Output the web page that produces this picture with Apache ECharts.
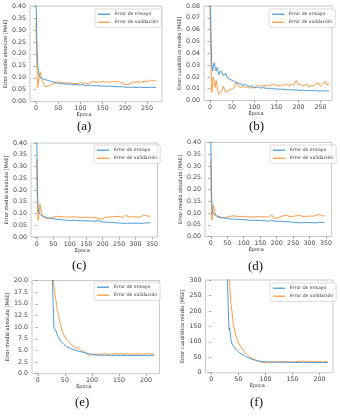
<!DOCTYPE html>
<html><head><meta charset="utf-8">
<script src="https://cdn.jsdelivr.net/npm/echarts@6/dist/echarts.min.js"></script>
<style>html,body{margin:0;padding:0;background:#fff}#c{width:340px;height:417px}</style>
</head><body><div id="c"></div>
<script>
// ---------- data ----------
const seriesNames = ['Error de ensayo', 'Error de validación'];
const panelLabels = ['(a)', '(b)', '(c)', '(d)', '(e)', '(f)'];
const yNames = ['Error medio absoluto [MAE]', 'Error cuadrático medio [MSE]', 'Error medio absoluto [MAE]', 'Error medio absoluto [MAE]', 'Error medio absoluto [MAE]', 'Error cuadrático medio [MSE]'];
const xName = 'Época';

const xTicksAB = [0, 50, 100, 150, 200, 250];
const xTicksCD = [0, 50, 100, 150, 200, 250, 300, 350];
const xTicksEF = [0, 50, 100, 150, 200];

const epochsAB = [0,2,4,6,8,10,12,14,16,18,20,25,30,35,40,45,50,55,60,65,70,75,80,85,90,95,100,105,110,115,120,125,130,135,140,145,150,155,160,165,170,175,180,185,190,195,200,205,210,215,220,225,230,235,240,245,250,255,260,265,270];
const trainA = [0.45,0.25,0.15,0.12,0.105,0.100,0.098,0.097,0.095,0.094,0.092,
  0.090,0.087,0.084,0.082,0.079,0.077,0.076,0.075,0.074,0.073,
  0.074,0.072,0.071,0.072,0.070,0.070,0.071,0.069,0.068,0.069,
  0.067,0.067,0.066,0.067,0.065,0.066,0.065,0.064,0.065,0.064,
  0.063,0.064,0.062,0.063,0.062,0.061,0.060,0.061,0.060,0.061,
  0.059,0.060,0.061,0.059,0.060,0.060,0.059,0.061,0.059,0.060];
const valA = [0.335,0.15,0.06,0.055,0.115,0.125,0.095,0.100,0.090,0.075,0.065,
  0.063,0.068,0.072,0.076,0.080,0.083,0.079,0.081,0.077,0.080,
  0.076,0.078,0.074,0.077,0.075,0.080,0.076,0.079,0.075,0.078,
  0.082,0.085,0.080,0.083,0.081,0.086,0.082,0.084,0.080,0.083,
  0.085,0.082,0.086,0.080,0.078,0.072,0.070,0.074,0.079,0.083,
  0.080,0.084,0.081,0.085,0.083,0.087,0.085,0.090,0.086,0.089];
const trainB = [0.12,0.06,0.03,0.025,0.03,0.032,0.027,0.025,0.028,0.026,0.022,
  0.025,0.021,0.023,0.019,0.018,0.017,0.016,0.015,0.0145,0.014,
  0.013,0.0135,0.0125,0.012,0.0125,0.011,0.0115,0.011,0.0105,0.011,
  0.0105,0.010,0.0105,0.010,0.0098,0.010,0.0095,0.0097,0.0093,0.0095,
  0.009,0.0092,0.009,0.0088,0.009,0.0087,0.0085,0.0088,0.0084,0.0086,
  0.0083,0.0085,0.0082,0.0084,0.008,0.0082,0.008,0.0083,0.0079,0.008];
const valB = [0.08,0.04,0.007,0.008,0.02,0.015,0.011,0.017,0.012,0.008,0.005,
  0.007,0.012,0.007,0.008,0.009,0.010,0.011,0.016,0.012,0.011,
  0.012,0.011,0.0115,0.0105,0.011,0.0105,0.012,0.013,0.012,0.0125,
  0.013,0.012,0.0135,0.013,0.014,0.0125,0.013,0.012,0.0135,0.013,
  0.014,0.0125,0.014,0.013,0.017,0.013,0.014,0.012,0.013,0.014,
  0.011,0.013,0.0125,0.014,0.015,0.012,0.014,0.016,0.013,0.015];

const epochsCD = [0,2,4,6,8,10,12,14,16,18,20,25,30,35,40,45,50,55,60,65,70,75,80,85,90,95,100,105,110,115,120,125,130,135,140,145,150,155,160,165,170,175,180,185,190,195,200,205,210,215,220,225,230,235,240,245,250,255,260,265,270,275,280,285,290,295,300,305,310,315,320,325,330,335,340,345];
const trainC = [0.45,0.2,0.13,0.11,0.1,0.095,0.093,0.091,0.09,0.088,0.087,
  0.085,0.083,0.082,0.080,0.079,0.078,0.077,0.076,0.075,0.074,
  0.073,0.074,0.072,0.073,0.071,0.072,0.071,0.070,0.071,0.070,
  0.069,0.070,0.069,0.068,0.069,0.068,0.069,0.067,0.068,0.066,
  0.067,0.069,0.071,0.067,0.065,0.066,0.064,0.065,0.063,0.064,
  0.062,0.063,0.061,0.062,0.060,0.061,0.059,0.060,0.058,0.060,
  0.059,0.060,0.058,0.060,0.059,0.061,0.059,0.060,0.058,0.060,
  0.059,0.061,0.060,0.062,0.061];
const valC = [0.33,0.12,0.07,0.09,0.125,0.14,0.12,0.105,0.095,0.09,0.086,
  0.081,0.078,0.077,0.079,0.081,0.084,0.086,0.088,0.085,0.087,
  0.089,0.086,0.088,0.084,0.086,0.085,0.083,0.086,0.084,0.085,
  0.082,0.084,0.086,0.083,0.088,0.085,0.081,0.083,0.080,0.084,
  0.079,0.082,0.089,0.077,0.079,0.078,0.081,0.084,0.087,0.085,
  0.088,0.086,0.090,0.087,0.085,0.088,0.084,0.083,0.087,0.092,
  0.089,0.086,0.084,0.085,0.088,0.087,0.084,0.083,0.087,0.090,
  0.088,0.093,0.091,0.087,0.090];
const trainD = [0.45,0.2,0.12,0.105,0.098,0.094,0.092,0.09,0.089,0.088,0.086,
  0.084,0.082,0.081,0.079,0.078,0.077,0.076,0.075,0.074,0.073,
  0.074,0.072,0.073,0.071,0.072,0.070,0.071,0.070,0.069,0.070,
  0.069,0.068,0.069,0.067,0.068,0.067,0.068,0.066,0.067,0.066,
  0.065,0.067,0.070,0.066,0.065,0.064,0.065,0.063,0.064,0.062,
  0.063,0.061,0.062,0.060,0.061,0.059,0.060,0.058,0.059,0.060,
  0.058,0.059,0.060,0.058,0.059,0.061,0.059,0.060,0.058,0.060,
  0.059,0.061,0.060,0.059,0.061];
const valD = [0.33,0.11,0.07,0.10,0.135,0.13,0.11,0.095,0.09,0.086,0.084,
  0.080,0.078,0.079,0.078,0.081,0.083,0.085,0.084,0.087,0.085,
  0.088,0.086,0.084,0.087,0.085,0.083,0.086,0.084,0.082,0.085,
  0.083,0.081,0.084,0.082,0.085,0.080,0.083,0.081,0.084,0.079,
  0.083,0.078,0.092,0.079,0.083,0.077,0.080,0.083,0.086,0.088,
  0.085,0.090,0.087,0.085,0.089,0.086,0.084,0.088,0.086,0.091,
  0.087,0.085,0.089,0.086,0.084,0.087,0.090,0.086,0.088,0.091,
  0.087,0.094,0.091,0.087,0.090];

const epochsEF = [0,5,10,15,20,25,27,28,29,30,31,32,33,34,35,36,38,40,42,45,48,50,55,60,65,70,75,80,85,90,95,100,105,110,115,120,125,130,135,140,145,150,155,160,165,170,175,180,185,190,195,200,205,210,215];
const trainE = [150,110,80,55,38,26,20.5,16,12.5,9.8,9.5,9.6,9.3,9.5,8.9,8.4,7.8,7.4,7.0,6.6,6.3,6.0,
  5.7,5.4,5.2,5.0,4.85,4.7,4.55,4.4,4.25,4.15,
  4.05,4.0,3.98,3.95,3.97,3.93,3.95,3.92,3.94,3.92,
  3.93,3.91,3.93,3.9,3.92,3.9,3.91,3.89,3.9,3.9,
  3.89,3.9,3.9];
const valE = [160,120,85,60,40,28,23,21,19.8,18.5,17.5,16.8,16.0,15.4,14.5,13.6,12.6,11.5,10.4,9.2,8.3,7.9,
  7.1,6.5,6.0,5.5,5.6,5.0,4.7,4.4,3.85,4.15,
  4.2,4.1,4.25,4.2,4.3,4.15,4.25,4.2,4.3,4.2,
  4.25,4.15,4.3,4.2,4.25,4.2,4.3,4.15,4.25,4.2,
  4.3,4.2,4.35];
const trainF = [2000,1500,1100,800,600,420,360,330,310,290,230,170,138,145,128,110,95,88,82,77,72,68,
  61,56,51,47,44,41,39,37,36,35,
  35,34.5,34,34.5,34,33.5,34,33.5,34,33.5,
  33,33.5,33,33.5,33,33.5,33,32.5,33,33,
  32.5,33,33];
const valF = [2200,1700,1250,900,650,470,410,380,360,345,330,318,305,290,255,230,200,165,145,122,108,98,
  82,70,60,52,46,42,39,36,33,32,
  33,34,35,34,36,35,37,35,34,36,
  35,37,36,38,36,35,37,36,35,36,
  35,36,35];

// ---------- layout ----------
const panels = [
  {grid:{left:30, top:6, width:132, height:95.7}, x:[-13.5,283.5], xt:xTicksAB, y:[0,0.4,0.05,2], ep:epochsAB, tr:trainA, va:valA, lg:{left:95, top:9}, lab:[85,128]},
  {grid:{left:204, top:6, width:128, height:94.5}, x:[-13.5,276], xt:xTicksAB, y:[0,0.08,0.01,2], ep:epochsAB, tr:trainB, va:valB, lg:{left:269, top:9}, lab:[257,128]},
  {grid:{left:31, top:143, width:126.5, height:94}, x:[-17.45,366.45], xt:xTicksCD, y:[0,0.4,0.05,2], ep:epochsCD, tr:trainC, va:valC, lg:{left:94, top:145}, lab:[80,267]},
  {grid:{left:205, top:142.5, width:126.5, height:94}, x:[-17.45,366.45], xt:xTicksCD, y:[0,0.4,0.05,2], ep:epochsCD, tr:trainD, va:valD, lg:{left:270, top:145}, lab:[256,268]},
  {grid:{left:32, top:280.5, width:127.5, height:93.2}, x:[-10.7,224.7], xt:xTicksEF, y:[0,20,2.5,1], ep:epochsEF, tr:trainE, va:valE, lg:{left:94, top:282}, lab:[83,404]},
  {grid:{left:205.5, top:280, width:127.5, height:92.7}, x:[-10.7,224.7], xt:xTicksEF, y:[0,300,50,0], ep:epochsEF, tr:trainF, va:valF, lg:{left:270, top:283}, lab:[258,404]}
];
const BLUE = '#3a90cf', ORANGE = '#ff9030';
const FONT = 'DejaVu Sans';
const zip = (xs, ys) => xs.map((x, i) => [x, ys[i]]);

const option = {
  animation: false,
  backgroundColor: '#fff',
  grid: [], xAxis: [], yAxis: [], series: [], legend: [], graphic: []
};
panels.forEach((p, i) => {
  option.grid.push(Object.assign({show:true, borderColor:'#bbb', borderWidth:0.8, backgroundColor:'transparent'}, p.grid));
  option.xAxis.push({
    type:'value', gridIndex:i, min:p.x[0], max:p.x[1],
    axisLine:{show:false}, splitLine:{show:false},
    axisTick:{show:true, length:2.5, lineStyle:{color:'#888', width:0.7}, customValues:p.xt},
    axisLabel:{fontSize:6.3, color:'#444', fontFamily:FONT, margin:4, customValues:p.xt},
    name:xName, nameLocation:'middle', nameGap:9,
    nameTextStyle:{fontSize:5, color:'#333', fontFamily:FONT, padding:[0,24,0,0]}
  });
  option.yAxis.push({
    type:'value', gridIndex:i, min:p.y[0], max:p.y[1], interval:p.y[2],
    axisLine:{show:false}, splitLine:{show:false},
    axisTick:{show:true, length:2.5, lineStyle:{color:'#888', width:0.7}},
    axisLabel:{fontSize:6.3, color:'#444', fontFamily:FONT, margin:4,
      formatter:(v) => v.toFixed(p.y[3])},
    name:yNames[i], nameLocation:'middle', nameGap:17,
    nameTextStyle:{fontSize:5, color:'#333', fontFamily:FONT}
  });
  option.series.push({
    type:'line', name:seriesNames[0], xAxisIndex:i, yAxisIndex:i, data:zip(p.ep, p.tr),
    symbol:'none', showSymbol:false, clip:true, lineStyle:{width:0.9, color:BLUE}, itemStyle:{color:BLUE}, z:3
  });
  option.series.push({
    type:'line', name:seriesNames[1], xAxisIndex:i, yAxisIndex:i, data:zip(p.ep, p.va),
    symbol:'none', showSymbol:false, clip:true, lineStyle:{width:0.9, color:ORANGE}, itemStyle:{color:ORANGE}, z:2
  });
  option.legend.push({
    left:p.lg.left, top:p.lg.top, orient:'vertical',
    data:seriesNames.map(n => ({name:n, icon:'rect'})),
    itemWidth:12, itemHeight:1.2, itemGap:2.6, itemTextGap:4,
    padding:[2.5,3,2.5,3], borderColor:'#ccc', borderWidth:0.7, borderRadius:2,
    backgroundColor:'rgba(255,255,255,0.85)',
    textStyle:{fontSize:4.6, lineHeight:5.4, color:'#333', fontFamily:FONT}
  });
  option.graphic.push({
    type:'text', left:p.lab[0]-8, top:p.lab[1]-8,
    style:{text:panelLabels[i], font:'13px "Liberation Serif"', fill:'#111'}
  });
});
const chart = echarts.init(document.getElementById('c'), null, {renderer:'canvas'});
chart.setOption(option);
</script></body></html>
